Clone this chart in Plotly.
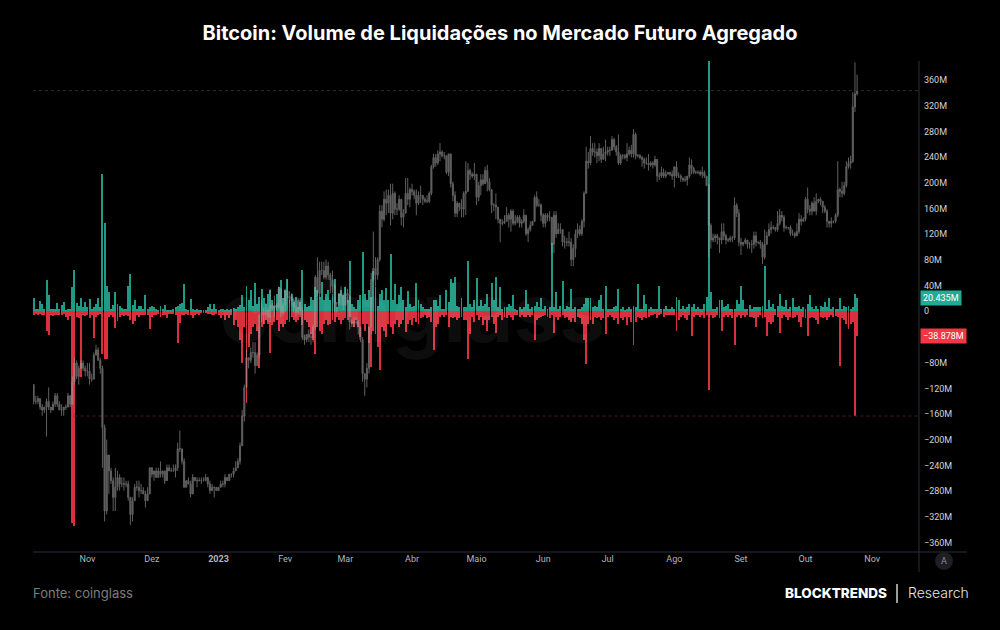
import pandas as pd
import plotly.graph_objects as go

# ---------------- DATA ----------------
start_date = "2022-10-07"
n_days = 384
dates = pd.date_range(start_date, periods=n_days, freq="D")

# Liquidations (millions USD). Long liquidations plotted up (green), short liquidations down (red)
long_liq = [
    21, 4, 3, 16, 12, 3, 48, 25, 4, 3, 3, 13, 4, 10, 15, 2, 3, 4, 38, 64, 13, 8, 21, 7, 15, 7, 19, 4, 6, 12, 20, 7,
    214, 138, 39, 30, 4, 10, 30, 12, 9, 5, 4, 4, 39, 58, 10, 17, 4, 8, 8, 4, 26, 4, 7, 8, 6, 4, 2, 9, 4, 10, 2, 2,
    2, 3, 6, 8, 12, 13, 43, 4, 2, 19, 3, 2, 3, 2, 2, 1, 2, 7, 12, 3, 12, 3, 2, 3, 3, 2, 4, 2, 3, 5,
    4, 7, 10, 25, 7, 40, 17, 33, 9, 44, 12, 22, 35, 21, 12, 27, 33, 17, 9, 27, 38, 48, 20, 33, 51, 17, 27, 15, 22, 7,
    15, 64, 12, 7, 9, 22, 17, 38, 33, 22, 46, 17, 27, 33, 17, 27, 51, 7, 27, 33, 25, 38, 17, 78, 12, 7, 4, 17, 25, 93,
    27, 17, 33, 22, 63, 38, 9, 27, 33, 17, 37, 17, 89, 17, 42, 12, 25, 38, 17, 7, 32, 12, 7, 9, 44, 17, 12, 7, 4, 4,
    4, 7, 17, 18, 9, 25, 4,
    4, 33, 15, 51, 44, 54, 9, 7, 21, 7, 7, 79, 12, 7, 17, 52, 8, 17, 9, 12, 27, 7, 44, 17, 54, 6, 38, 4, 7, 6,
    12, 8, 25, 4, 2, 7, 3, 7, 33, 12, 4, 7, 9, 15, 7, 20, 4, 8, 4, 6, 106, 7, 30, 4, 8, 47, 4, 9, 7, 35,
    4, 7, 4, 4, 7, 12, 21, 21, 21, 7, 9, 6, 17, 26, 4, 40, 3, 4, 4, 7, 9, 35, 4, 6, 2, 4, 7, 3, 9, 7,
    43, 3, 4, 25, 12, 4, 7,
    3, 4, 3, 40, 3, 4, 8, 4, 3, 6, 3, 22, 18, 4, 8, 3, 6, 12, 6, 12, 3, 6, 3, 3, 12, 23, 390, 30, 4, 3,
    7, 17, 18, 7, 9, 12, 3, 4, 4, 18, 12, 40, 18, 3, 4, 10, 3, 6, 7, 6, 7, 8, 70, 4, 17, 7, 12, 4, 9, 27,
    9, 7, 17, 4, 7, 21, 7, 7, 9, 4, 6, 4, 12, 25, 7, 4, 8, 4, 8, 6, 15, 7, 21, 4, 6, 3, 4, 21, 4, 8,
    6, 8, 4, 6, 27, 20.435,
]
short_liq = [
    6, 4, 5, 4, 6, 6, 31, 37, 6, 7, 6, 5, 5, 6, 4, 9, 13, 8, 330, 334, 9, 11, 102, 6, 8, 6, 11, 6, 41, 9, 5, 4,
    66, 75, 74, 9, 6, 9, 26, 15, 9, 6, 8, 5, 8, 14, 20, 15, 6, 9, 6, 6, 5, 6, 27, 9, 5, 6, 4, 9, 6, 5, 11, 4,
    4, 4, 6, 49, 18, 6, 6, 4, 6, 5, 11, 6, 4, 5, 3, 2, 2, 4, 4, 6, 6, 4, 6, 10, 6, 13, 6, 10, 6, 22,
    14, 25, 45, 81, 24, 142, 55, 35, 24, 19, 30, 89, 24, 19, 14, 19, 65, 22, 16, 14, 31, 19, 24, 19, 13, 16, 9, 14, 16, 14,
    9, 22, 14, 16, 24, 35, 45, 66, 24, 30, 35, 19, 14, 22, 19, 14, 16, 9, 14, 19, 14, 11, 14, 9, 19, 24, 14, 24, 40, 19,
    30, 19, 50, 87, 30, 35, 55, 92, 24, 30, 40, 19, 24, 35, 19, 14, 24, 19, 14, 32, 19, 14, 22, 11, 16, 19, 11, 9, 6, 11,
    9, 16, 61, 24, 19, 9, 6,
    9, 6, 24, 9, 11, 9, 14, 11, 9, 14, 14, 74, 35, 9, 16, 6, 14, 9, 22, 14, 30, 14, 9, 19, 34, 9, 6, 14, 9, 11,
    6, 9, 14, 6, 6, 9, 6, 9, 9, 6, 9, 6, 45, 14, 11, 9, 8, 6, 9, 11, 6, 34, 9, 14, 9, 6, 11, 9, 14, 16,
    11, 16, 9, 11, 19, 45, 82, 19, 14, 19, 9, 11, 9, 14, 11, 36, 9, 6, 9, 14, 11, 19, 11, 14, 9, 21, 9, 16, 52, 16,
    9, 11, 14, 9, 11, 9, 6,
    6, 4, 11, 6, 4, 9, 6, 5, 6, 5, 6, 30, 14, 9, 6, 11, 14, 6, 39, 9, 6, 5, 9, 6, 10, 6, 123, 6, 11, 9,
    6, 10, 30, 9, 6, 9, 6, 10, 52, 9, 6, 11, 5, 9, 6, 9, 9, 11, 24, 9, 6, 11, 9, 39, 16, 19, 16, 6, 9, 34,
    11, 6, 9, 14, 9, 11, 9, 6, 16, 24, 9, 11, 39, 11, 9, 10, 14, 19, 9, 11, 9, 14, 9, 6, 9, 8, 9, 85, 11, 14,
    19, 28, 19, 16, 163, 38.878,
]

# BTC daily price (thousand USD) - hidden log axis
price_first_open = 20.0
price_close = (
    [19.4, 19.4, 19.5, 19.2, 19.1, 19.2, 19.4, 19.2, 19.1, 19.3, 19.6, 19.3, 19.1, 19.1, 19.2, 19.2, 19.6, 19.3, 20.1, 20.8, 20.3, 20.6, 20.8, 20.6, 20.5]
    + [20.5, 20.2, 20.2, 21.1, 21.3, 20.9, 20.6, 18.5, 15.9, 17.6, 17.1, 16.8, 16.3, 16.6, 16.9, 16.7, 16.7, 16.7, 16.7, 16.3, 15.8, 16.2, 16.6, 16.6, 16.5, 16.5, 16.4, 16.2, 16.4, 17.2]
    + [17.0, 17.1, 16.9, 17.1, 17.0, 17.1, 16.8, 17.2, 17.1, 17.1, 17.1, 17.2, 17.8, 17.8, 17.4, 16.6, 16.8, 16.7, 16.4, 16.9, 16.8, 16.8, 16.8, 16.8, 16.8, 16.9, 16.7, 16.5, 16.6, 16.6, 16.5]
    + [16.6, 16.7, 16.7, 16.9, 16.8, 17.0, 17.0, 17.1, 17.2, 17.4, 17.9, 18.9, 19.9, 21.0, 20.9, 21.2, 21.2, 20.7, 21.1, 22.7, 22.8, 22.7, 22.9, 22.6, 23.1, 23.0, 23.1, 23.0, 23.8, 22.8, 23.1]
    + [23.7, 23.5, 23.4, 23.3, 23.0, 22.8, 23.3, 22.9, 21.8, 21.7, 21.9, 21.8, 21.8, 22.2, 24.3, 23.6, 24.6, 24.6, 24.3, 24.8, 24.4, 24.2, 23.9, 23.2, 23.2, 23.6, 23.5, 23.1]
    + [23.6, 23.5, 22.4, 22.4, 22.4, 22.4, 22.2, 21.7, 20.4, 20.2, 20.6, 22.2, 24.2, 24.7, 24.4, 25.1, 27.4, 27.0, 28.0, 27.8, 28.2, 27.3, 28.3, 27.5, 27.5, 28.0, 27.1, 27.3, 28.3, 28.0, 28.5]
    + [28.4, 28.2, 27.8, 28.2, 28.2, 28.0, 27.9, 27.9, 28.3, 29.7, 30.2, 29.9, 30.4, 30.5, 30.3, 30.3, 29.4, 30.4, 28.8, 28.2, 27.3, 27.8, 27.6, 27.5, 28.3, 28.4, 29.5, 29.3, 29.2, 29.3]
    + [28.1, 28.7, 29.0, 28.8, 29.5, 28.9, 28.5, 27.7, 27.7, 27.6, 27.0, 26.8, 26.8, 26.9, 27.2, 27.0, 27.4, 26.8, 26.9, 27.1, 26.8, 26.9, 27.2, 26.3, 26.5, 26.7, 26.9, 28.1, 27.7, 27.7, 27.2]
    + [26.8, 27.2, 27.1, 27.1, 25.8, 27.2, 26.3, 26.5, 26.5, 25.9, 25.9, 25.9, 25.9, 25.1, 25.6, 26.3, 26.5, 26.3, 26.9, 28.3, 30.0, 29.9, 30.7, 30.5, 30.5, 30.3, 30.7, 30.1, 30.4, 30.5]
    + [30.6, 30.6, 31.2, 30.8, 30.5, 29.9, 30.3, 30.3, 30.2, 30.4, 30.6, 30.4, 31.5, 30.3, 30.3, 30.2, 30.1, 29.9, 29.9, 29.8, 29.9, 29.8, 30.1, 29.2, 29.2, 29.4, 29.2, 29.3, 29.4, 29.3, 29.2]
    + [29.7, 29.2, 29.2, 29.1, 29.0, 29.0, 29.2, 29.8, 29.6, 29.4, 29.4, 29.4, 29.3, 29.4, 29.2, 28.7, 26.7, 26.0, 26.1, 26.2, 26.1, 26.0, 26.4, 26.2, 26.0, 26.0, 26.1, 26.1, 27.7, 27.3, 25.9]
    + [25.8, 25.9, 26.0, 25.8, 25.8, 25.8, 26.2, 25.9, 25.9, 25.8, 25.2, 25.8, 26.2, 26.5, 26.6, 26.6, 26.5, 26.8, 27.2, 27.1, 26.6, 26.6, 26.6, 26.3, 26.3, 26.2, 26.4, 27.0, 26.9, 27.0]
    + [28.0, 27.5, 27.4, 27.8, 27.4, 27.9, 28.0, 27.9, 27.6, 27.4, 26.9, 26.8, 26.9, 26.9, 27.2, 28.5, 28.4, 28.3, 28.7, 29.7, 29.9, 30.0, 33.1, 33.9, 34.1]
)
price_high = (
    [20.0, 19.6, 19.6, 19.5, 19.3, 19.2, 19.5, 19.9, 19.2, 19.4, 19.7, 19.7, 19.4, 19.3, 19.2, 19.3, 19.7, 19.6, 20.3, 21.0, 20.9, 20.7, 20.9, 20.9, 20.7]
    + [20.8, 20.8, 20.4, 21.2, 21.5, 21.4, 21.0, 20.7, 18.6, 18.1, 17.6, 17.2, 16.9, 17.2, 17.1, 17.0, 16.9, 16.9, 16.8, 16.8, 16.3, 16.3, 16.7, 16.8, 16.8, 16.7, 16.6, 16.5, 16.6, 17.2]
    + [17.2, 17.1, 17.2, 17.2, 17.4, 17.1, 17.1, 17.3, 17.3, 17.2, 17.3, 17.3, 18.0, 18.4, 17.8, 17.5, 16.8, 16.9, 16.8, 17.0, 16.9, 16.9, 16.9, 16.9, 16.9, 17.0, 16.9, 16.8, 16.7, 16.6, 16.6]
    + [16.6, 16.8, 16.8, 17.0, 16.9, 17.0, 17.0, 17.2, 17.4, 17.5, 18.0, 19.1, 20.0, 21.3, 21.0, 21.4, 21.6, 21.6, 21.2, 22.7, 23.3, 23.0, 23.2, 23.0, 23.8, 23.2, 23.5, 23.2, 23.9, 23.8, 23.2]
    + [23.8, 24.2, 23.7, 23.6, 23.4, 23.1, 23.4, 23.4, 23.0, 21.9, 21.9, 22.1, 22.0, 22.3, 24.4, 25.2, 25.0, 25.0, 25.0, 25.1, 25.0, 24.5, 24.6, 24.0, 23.2, 23.6, 23.9, 23.6]
    + [23.9, 23.8, 23.5, 22.5, 22.6, 22.6, 22.5, 22.2, 21.8, 20.4, 20.8, 22.2, 24.5, 26.4, 25.2, 25.2, 27.7, 27.7, 28.4, 28.5, 28.5, 28.8, 28.8, 28.4, 27.8, 28.2, 28.0, 27.5, 29.1, 29.1, 28.6]
    + [28.8, 28.5, 28.5, 28.4, 28.7, 28.2, 28.1, 28.2, 28.4, 29.8, 30.4, 30.4, 30.6, 31.0, 30.6, 30.5, 30.3, 30.4, 30.4, 28.9, 28.4, 27.9, 27.8, 28.0, 28.4, 30.0, 29.9, 29.6, 29.4, 29.9]
    + [29.3, 28.9, 29.3, 29.3, 29.7, 29.8, 29.1, 28.5, 27.8, 28.3, 27.6, 26.9, 27.0, 27.2, 27.6, 27.3, 27.5, 27.5, 27.2, 27.2, 27.2, 27.0, 27.5, 27.2, 26.6, 26.9, 26.9, 28.2, 28.4, 28.0, 27.8]
    + [27.3, 27.3, 27.3, 27.4, 27.1, 27.4, 27.4, 26.8, 26.8, 26.5, 26.2, 26.1, 26.4, 26.1, 25.8, 26.5, 26.8, 26.7, 27.0, 28.4, 30.8, 30.5, 31.4, 31.0, 31.0, 30.7, 31.0, 30.7, 30.8, 31.2]
    + [30.8, 30.8, 31.4, 31.3, 30.9, 31.5, 30.4, 30.4, 30.4, 31.0, 30.8, 30.9, 31.8, 31.6, 30.4, 30.4, 30.3, 30.2, 30.2, 30.4, 30.0, 30.0, 30.3, 30.1, 29.4, 29.7, 29.6, 29.5, 29.4, 29.4, 29.5]
    + [29.7, 30.0, 29.4, 29.3, 29.1, 29.2, 29.2, 30.2, 30.1, 29.7, 29.5, 29.5, 29.5, 29.7, 29.5, 29.2, 28.8, 26.8, 26.3, 26.3, 26.3, 26.1, 26.8, 26.8, 26.3, 26.1, 26.2, 26.2, 28.1, 27.8, 27.5]
    + [26.1, 25.9, 26.1, 26.0, 25.9, 26.0, 26.4, 26.4, 25.9, 26.0, 25.9, 26.5, 26.4, 26.8, 26.9, 26.7, 26.6, 27.4, 27.5, 27.4, 27.2, 26.7, 26.6, 26.7, 26.5, 26.4, 26.8, 27.3, 27.2, 27.1]
    + [28.1, 28.6, 27.7, 27.9, 28.1, 28.3, 28.0, 28.1, 27.9, 27.7, 27.5, 26.9, 27.1, 26.9, 27.3, 30.0, 28.6, 28.9, 28.9, 30.0, 30.2, 30.3, 34.0, 35.9, 35.1]
)
price_low = (
    [19.3, 19.3, 19.3, 19.1, 18.9, 19.0, 18.2, 19.1, 19.0, 19.1, 19.2, 19.2, 19.1, 18.9, 18.9, 19.1, 19.2, 19.2, 19.3, 20.0, 20.2, 20.0, 20.6, 20.5, 20.3]
    + [20.3, 20.0, 20.1, 20.2, 21.1, 20.9, 20.4, 17.2, 15.6, 15.8, 16.4, 16.7, 15.9, 15.9, 16.5, 16.5, 16.6, 16.5, 16.6, 16.2, 15.5, 15.6, 16.2, 16.5, 16.3, 16.4, 16.4, 16.0, 16.2, 16.4]
    + [16.9, 16.8, 16.9, 16.9, 16.9, 16.9, 16.7, 16.8, 17.1, 17.1, 17.1, 16.9, 17.1, 17.7, 17.3, 16.6, 16.6, 16.7, 16.3, 16.4, 16.8, 16.6, 16.8, 16.7, 16.8, 16.8, 16.6, 16.4, 16.5, 16.3, 16.5]
    + [16.5, 16.6, 16.6, 16.6, 16.8, 16.8, 16.9, 16.9, 17.1, 17.2, 17.3, 17.9, 18.7, 19.9, 20.6, 20.8, 21.0, 20.4, 20.7, 21.0, 22.4, 22.3, 22.5, 22.4, 22.4, 22.9, 22.6, 22.9, 23.0, 22.6, 22.7]
    + [22.8, 23.4, 23.2, 23.3, 22.8, 22.6, 22.7, 22.7, 21.7, 21.5, 21.6, 21.6, 21.5, 21.6, 22.1, 23.5, 23.4, 24.4, 24.2, 24.2, 24.2, 23.6, 23.6, 22.8, 22.8, 23.1, 23.1, 22.9]
    + [23.1, 23.2, 22.1, 22.2, 22.2, 22.3, 21.9, 21.6, 20.1, 19.6, 19.9, 20.4, 21.9, 24.1, 23.9, 24.2, 25.0, 26.6, 26.9, 27.2, 27.3, 26.7, 27.0, 27.2, 27.2, 27.4, 26.7, 26.6, 27.3, 27.7, 27.6]
    + [28.2, 28.0, 27.2, 27.7, 27.8, 27.7, 27.8, 27.8, 27.8, 28.2, 29.6, 29.7, 29.8, 30.0, 30.2, 30.1, 29.3, 29.2, 28.6, 27.9, 27.1, 27.1, 27.4, 27.1, 27.1, 27.2, 28.4, 29.0, 29.1, 29.0]
    + [27.7, 27.9, 28.2, 28.7, 28.8, 28.4, 28.4, 27.3, 27.4, 27.0, 26.8, 25.9, 26.7, 26.8, 26.9, 26.6, 26.4, 26.7, 26.7, 26.8, 26.6, 26.6, 26.8, 26.2, 25.9, 26.4, 26.7, 26.9, 27.6, 27.6, 26.9]
    + [26.6, 26.6, 26.9, 26.9, 25.4, 25.4, 26.1, 26.3, 26.3, 25.7, 25.6, 25.7, 25.7, 24.8, 24.8, 25.2, 26.1, 26.2, 26.2, 26.6, 28.3, 29.6, 29.8, 30.3, 30.2, 29.9, 30.0, 29.9, 30.1, 30.0]
    + [30.3, 30.3, 30.6, 30.6, 30.3, 29.8, 29.8, 30.1, 30.1, 30.0, 30.3, 30.2, 30.2, 30.1, 30.2, 30.1, 29.7, 29.6, 29.8, 29.5, 29.7, 29.6, 29.7, 28.9, 29.0, 29.1, 29.1, 29.1, 29.3, 29.2, 29.0]
    + [28.6, 29.1, 29.1, 28.9, 28.9, 28.9, 28.7, 29.1, 29.3, 29.3, 29.3, 29.3, 29.2, 29.1, 29.1, 28.7, 25.2, 25.6, 25.9, 25.9, 25.8, 25.4, 25.8, 26.0, 25.8, 25.9, 25.9, 25.9, 26.0, 27.1, 25.7]
    + [25.3, 25.7, 25.8, 25.6, 25.6, 25.4, 25.6, 25.7, 25.8, 25.6, 24.9, 25.1, 25.8, 26.2, 26.3, 26.5, 26.4, 26.4, 26.7, 26.9, 26.4, 26.5, 26.5, 26.2, 26.2, 26.1, 26.2, 26.3, 26.7, 26.9]
    + [26.9, 27.3, 27.2, 27.2, 27.4, 27.2, 27.8, 27.7, 27.3, 27.3, 26.6, 26.6, 26.6, 26.8, 26.8, 27.1, 28.1, 28.1, 28.2, 28.6, 29.6, 29.6, 29.9, 32.8, 33.8]
)
price_open = [price_first_open] + price_close[:-1]

month_ticks = ["2022-11-01", "2022-12-01", "2023-01-01", "2023-02-01", "2023-03-01", "2023-04-01",
               "2023-05-01", "2023-06-01", "2023-07-01", "2023-08-01", "2023-09-01", "2023-10-01", "2023-11-01"]
month_labels = ["Nov", "Dez", "<b>2023</b>", "Fev", "Mar", "Abr", "Maio", "Jun", "Jul", "Ago", "Set", "Out", "Nov"]

y_ticks = [360, 320, 280, 240, 200, 160, 120, 80, 40, 0, -80, -120, -160, -200, -240, -280, -320, -360]
y_labels = ["360M", "320M", "280M", "240M", "200M", "160M", "120M", "80M", "40M", "0",
            "−80M", "−120M", "−160M", "−200M", "−240M", "−280M", "−320M", "−360M"]

title_text = "Bitcoin: Volume de Liquidações no Mercado Futuro Agregado"

# ---------------- STYLE / LAYOUT ----------------
W, H = 1000, 630
ML, MR, MT, MB = 33, 81, 61, 78
PW, PH = W - ML - MR, H - MT - MB


def px(xp):
    return (xp - ML) / PW


def py(yp):
    return (H - MB - yp) / PH


GREEN = "#22ab94"
RED = "#f23645"
x_range = ["2022-10-06 17:00", "2023-11-22 19:00"]

fig = go.Figure()
bar_w = 0.45 * 86400000

n_l = len(long_liq)
n_s = len(short_liq)
fig.add_trace(go.Bar(x=dates[:n_l], y=long_liq, width=bar_w, marker=dict(color=GREEN, line=dict(width=0)),
                     opacity=0.9, yaxis="y", hoverinfo="skip"))
fig.add_trace(go.Bar(x=dates[:n_s], y=[-v for v in short_liq], width=bar_w,
                     marker=dict(color=RED, line=dict(width=0)), opacity=0.9, yaxis="y", hoverinfo="skip"))

# red dotted reference line at the latest big short liquidation level
fig.add_trace(go.Scatter(x=[dates[19], pd.Timestamp(x_range[1])], y=[-short_liq[-2]] * 2, mode="lines",
                         line=dict(color="#5a1820", width=1, dash="dot"), yaxis="y", hoverinfo="skip"))

n_p = len(price_close)
fig.add_trace(go.Candlestick(
    x=dates[:n_p], open=price_open, high=price_high, low=price_low, close=price_close,
    yaxis="y2", opacity=0.6, whiskerwidth=0,
    increasing=dict(line=dict(color="#a0a0a0", width=1), fillcolor="#a0a0a0"),
    decreasing=dict(line=dict(color="#a0a0a0", width=1), fillcolor="#a0a0a0"),
    hoverinfo="skip"))

# last price dotted line
fig.add_trace(go.Scatter(x=[pd.Timestamp(x_range[0]), pd.Timestamp(x_range[1])], y=[price_close[-1]] * 2,
                         mode="lines", line=dict(color="#2c2e33", width=1, dash="dot"), yaxis="y2",
                         hoverinfo="skip"))

fig.update_layout(
    width=W, height=H, autosize=False,
    paper_bgcolor="#000000", plot_bgcolor="#000000",
    margin=dict(l=ML, r=MR, t=MT, b=MB),
    showlegend=False, barmode="overlay", bargap=0,
    font=dict(family="Roboto, sans-serif", color="#d1d4dc"),
    title=dict(text=title_text, x=0.5, xanchor="center", y=1 - 33 / H, yanchor="middle",
               font=dict(family="Inter", size=20, color="#ffffff", weight=700)),
    xaxis=dict(type="date", range=x_range, showgrid=False, zeroline=False, showline=False,
               tickmode="array", tickvals=month_ticks, ticktext=month_labels, ticks="",
               tickfont=dict(family="Roboto", size=9, color="#b2b5be"),
               rangeslider=dict(visible=False), fixedrange=True),
    yaxis=dict(range=[-374.6, 389.5], side="right", showgrid=False, zeroline=False, showline=False,
               tickmode="array", tickvals=y_ticks, ticktext=y_labels, ticks="", ticklabelstandoff=4,
               tickfont=dict(family="Roboto", size=9, color="#d1d4dc"), fixedrange=True),
    yaxis2=dict(type="log", range=[1.1691, 1.5561], overlaying="y", visible=False, fixedrange=True),
)

shapes = [
    # bottom time-axis line
    dict(type="line", xref="paper", yref="paper", x0=0, x1=px(967), y0=0, y1=0,
         line=dict(color="#2a2e39", width=1)),
    # right price-axis line
    dict(type="line", xref="paper", yref="paper", x0=1, x1=1, y0=py(572), y1=1,
         line=dict(color="#2a2e39", width=1)),
    # auto-scale button circle
    dict(type="circle", xref="paper", yref="paper", x0=px(935), x1=px(953), y0=py(570), y1=py(552),
         fillcolor="#1e1f24", line=dict(width=0)),
    # separator in logo
    dict(type="line", xref="paper", yref="paper", x0=px(897), x1=px(897), y0=py(584), y1=py(603),
         line=dict(color="#cfcfcf", width=1.5)),
]
fig.update_layout(shapes=shapes)

annotations = [
    dict(text="coinglass", xref="paper", yref="paper", x=px(412), y=py(312), xanchor="center", yanchor="middle",
         showarrow=False, font=dict(family="Inter", size=82, color="rgba(255,255,255,0.05)", weight=700)),
    dict(text="20.435M", xref="paper", yref="y", x=1, y=long_liq[-1], xanchor="left", yanchor="middle",
         xshift=1, showarrow=False, bgcolor=GREEN, borderpad=2,
         font=dict(family="Roboto", size=9, color="#ffffff")),
    dict(text="−38.878M", xref="paper", yref="y", x=1, y=-short_liq[-1], xanchor="left", yanchor="middle",
         xshift=1, showarrow=False, bgcolor=RED, borderpad=2,
         font=dict(family="Roboto", size=9, color="#ffffff")),
    dict(text="A", xref="paper", yref="paper", x=px(944), y=py(561), xanchor="center", yanchor="middle",
         showarrow=False, font=dict(family="Roboto", size=9, color="#8a8a8a")),
    dict(text="Fonte: coinglass", xref="paper", yref="paper", x=px(31), y=py(593), xanchor="left",
         yanchor="middle", showarrow=False, font=dict(family="Inter", size=13, color="#7d7d7d", weight=400)),
    dict(text="BLOCKTRENDS", xref="paper", yref="paper", x=px(889), y=py(593), xanchor="right",
         yanchor="middle", showarrow=False, font=dict(family="Inter", size=13.5, color="#ffffff", weight=800)),
    dict(text="Research", xref="paper", yref="paper", x=px(906), y=py(593), xanchor="left",
         yanchor="middle", showarrow=False, font=dict(family="Inter", size=14, color="#e6e6e6", weight=300)),
]
fig.update_layout(annotations=annotations)

fig.write_html("out.html")
